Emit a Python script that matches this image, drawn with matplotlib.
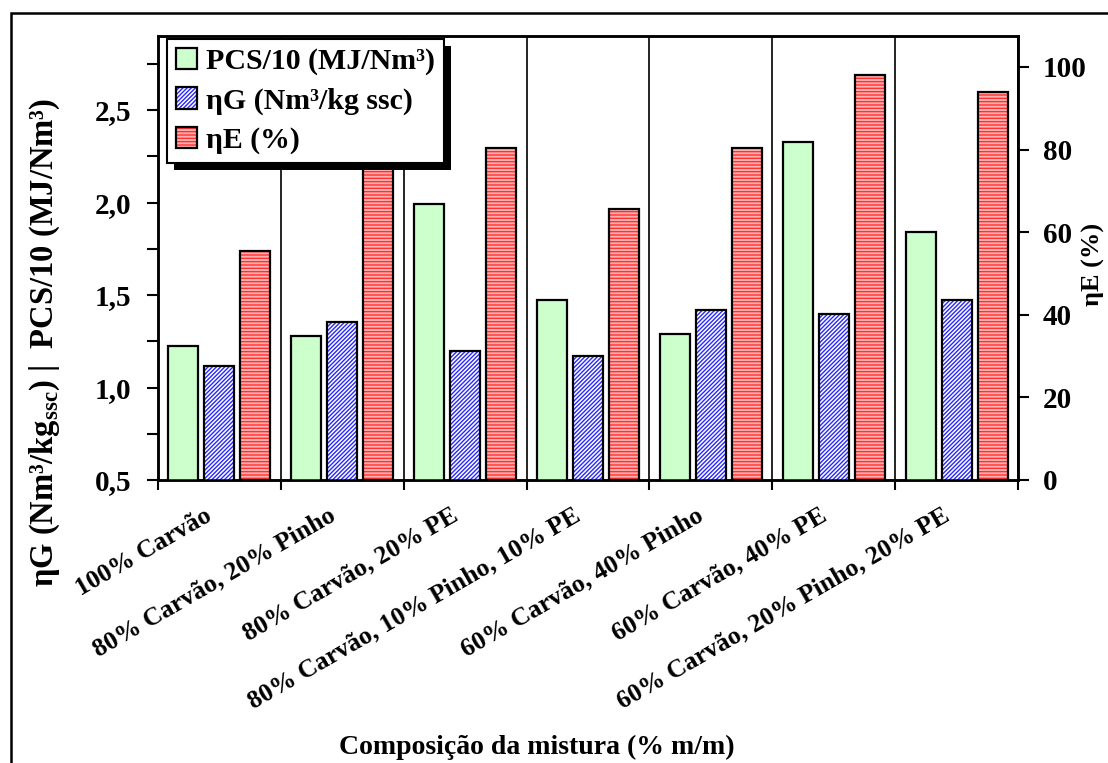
import matplotlib
matplotlib.use("Agg")
import matplotlib.pyplot as plt
import numpy as np
from matplotlib.patches import Rectangle
from matplotlib.transforms import IdentityTransform, ScaledTranslation

plt.rcParams['font.family'] = ['Liberation Serif', 'DejaVu Serif']
plt.rcParams['font.weight'] = 'bold'
plt.rcParams['axes.labelweight'] = 'bold'
plt.rcParams['mathtext.fontset'] = 'custom'
plt.rcParams['mathtext.rm'] = 'Liberation Serif:bold'
plt.rcParams['mathtext.bf'] = 'Liberation Serif:bold'
plt.rcParams['hatch.linewidth'] = 1.0

# data
categories = ["100% Carvão", "80% Carvão, 20% Pinho", "80% Carvão, 20% PE",
              "80% Carvão, 10% Pinho, 10% PE", "60% Carvão, 40% Pinho",
              "60% Carvão, 40% PE", "60% Carvão, 20% Pinho, 20% PE"]
pcs10 = [1.225, 1.278, 1.99, 1.473, 1.289, 2.325, 1.839]     # MJ/Nm3 /10
eta_g = [1.118, 1.354, 1.197, 1.17, 1.42, 1.397, 1.475]      # Nm3/kg ssc
eta_e = [55.4, 80.0, 80.5, 65.5, 80.5, 98.1, 94.0]           # %

left_ticks = [0.5, 1.0, 1.5, 2.0, 2.5]
left_labels = ["0,5", "1,0", "1,5", "2,0", "2,5"]
right_ticks = [0, 20, 40, 60, 80, 100]

fig = plt.figure(figsize=(11.08, 7.63), dpi=100)
ax = fig.add_axes([158/1108, 1-480/763, 860/1108, 444/763])
ax2 = ax.twinx()

x = np.arange(len(categories)) + 0.5
w = 0.245
step = 0.293

b1 = ax.bar(x - step, pcs10, w, color='#ccffcc', edgecolor='black', linewidth=1.6, zorder=3)
b2f = ax.bar(x, eta_g, w, color='white', edgecolor='#2828ff', hatch='////////', linewidth=0, zorder=3)
b2e = ax.bar(x, eta_g, w, fill=False, edgecolor='black', linewidth=1.6, zorder=4)
b3f = ax2.bar(x + step, eta_e, w, color='#ffb0b0', edgecolor='#ff3030', hatch='-----', linewidth=0, zorder=3)
b3e = ax2.bar(x + step, eta_e, w, fill=False, edgecolor='black', linewidth=1.6, zorder=4)

ax.set_xlim(0, len(categories))
ax.set_ylim(0.5, 2.9)
ax2.set_ylim(0, 107.5)

# x axis: ticks/grid at group boundaries, labels at centers
ax.set_xticks(np.arange(len(categories) + 1))
ax.set_xticklabels([])
ax.set_xticks(x, minor=True)
ax.set_xticklabels(categories, minor=True, rotation=30, ha='right', va='top',
                   rotation_mode='anchor', fontsize=18.5)
ax.tick_params(axis='x', which='major', direction='out', length=7, width=1.5)
ax.tick_params(axis='x', which='minor', length=0, pad=20)
shift = ScaledTranslation(-15/100, 4/100, fig.dpi_scale_trans)
for lab in ax.get_xticklabels(minor=True):
    lab.set_transform(lab.get_transform() + shift)
ax.grid(axis='x', which='major', color='black', linewidth=1.2)
ax.set_axisbelow(True)

ax.set_yticks(left_ticks)
ax.set_yticklabels(left_labels, fontsize=21)
ax.set_yticks(np.arange(0.75, 2.9, 0.5), minor=True)
ax.tick_params(axis='y', which='both', direction='out', length=8, width=1.5, pad=11)

ax2.set_yticks(right_ticks)
ax2.set_yticklabels([str(t) for t in right_ticks], fontsize=21)
ax2.tick_params(axis='y', direction='out', length=8, width=1.5, pad=10)

for a in (ax, ax2):
    for s in a.spines.values():
        s.set_linewidth(1.8)

ax.set_xlabel("Composição da mistura (% m/m)", fontsize=20, labelpad=0)
ax.xaxis.set_label_coords((537 - 158) / 860, -(735 - 480) / 444)
fig.text(45/1108, 1-342/763, "ηG (Nm³/kg$_{\\mathbf{ssc}}$) |  PCS/10 (MJ/Nm³)",
         rotation=90, ha='center', va='center', fontsize=23.5)
fig.text(1093/1108, 1-264/763, "ηE (%)", rotation=90, ha='center', va='center', fontsize=19)

leg = ax2.legend([b1, (b2f, b2e), (b3f, b3e)],
                 ["PCS/10 (MJ/Nm³)", "ηG (Nm³/kg ssc)", "ηE (%)"],
                 loc='upper left', bbox_to_anchor=(9/860, 441/444), borderaxespad=0,
                 fontsize=21.5, fancybox=False, edgecolor='black', framealpha=1,
                 handlelength=0.72, handleheight=0.72, handletextpad=0.3,
                 labelspacing=0.4, borderpad=0.3)
leg.get_frame().set_linewidth(1.5)

fig.canvas.draw()
bb = leg.get_window_extent()
sh = Rectangle((bb.x0 + 7, bb.y0 - 7), bb.width, bb.height, transform=IdentityTransform(),
               facecolor='black', edgecolor='none', zorder=leg.get_zorder() - 0.1, clip_on=False)
ax2.add_artist(sh)

# outer frame
fig.patches.append(Rectangle((11/1108, -0.1), 1.5, 1.1 - 13/763, transform=fig.transFigure,
                             fill=False, edgecolor='black', linewidth=1.8))

fig.savefig("out.png", dpi=100)
